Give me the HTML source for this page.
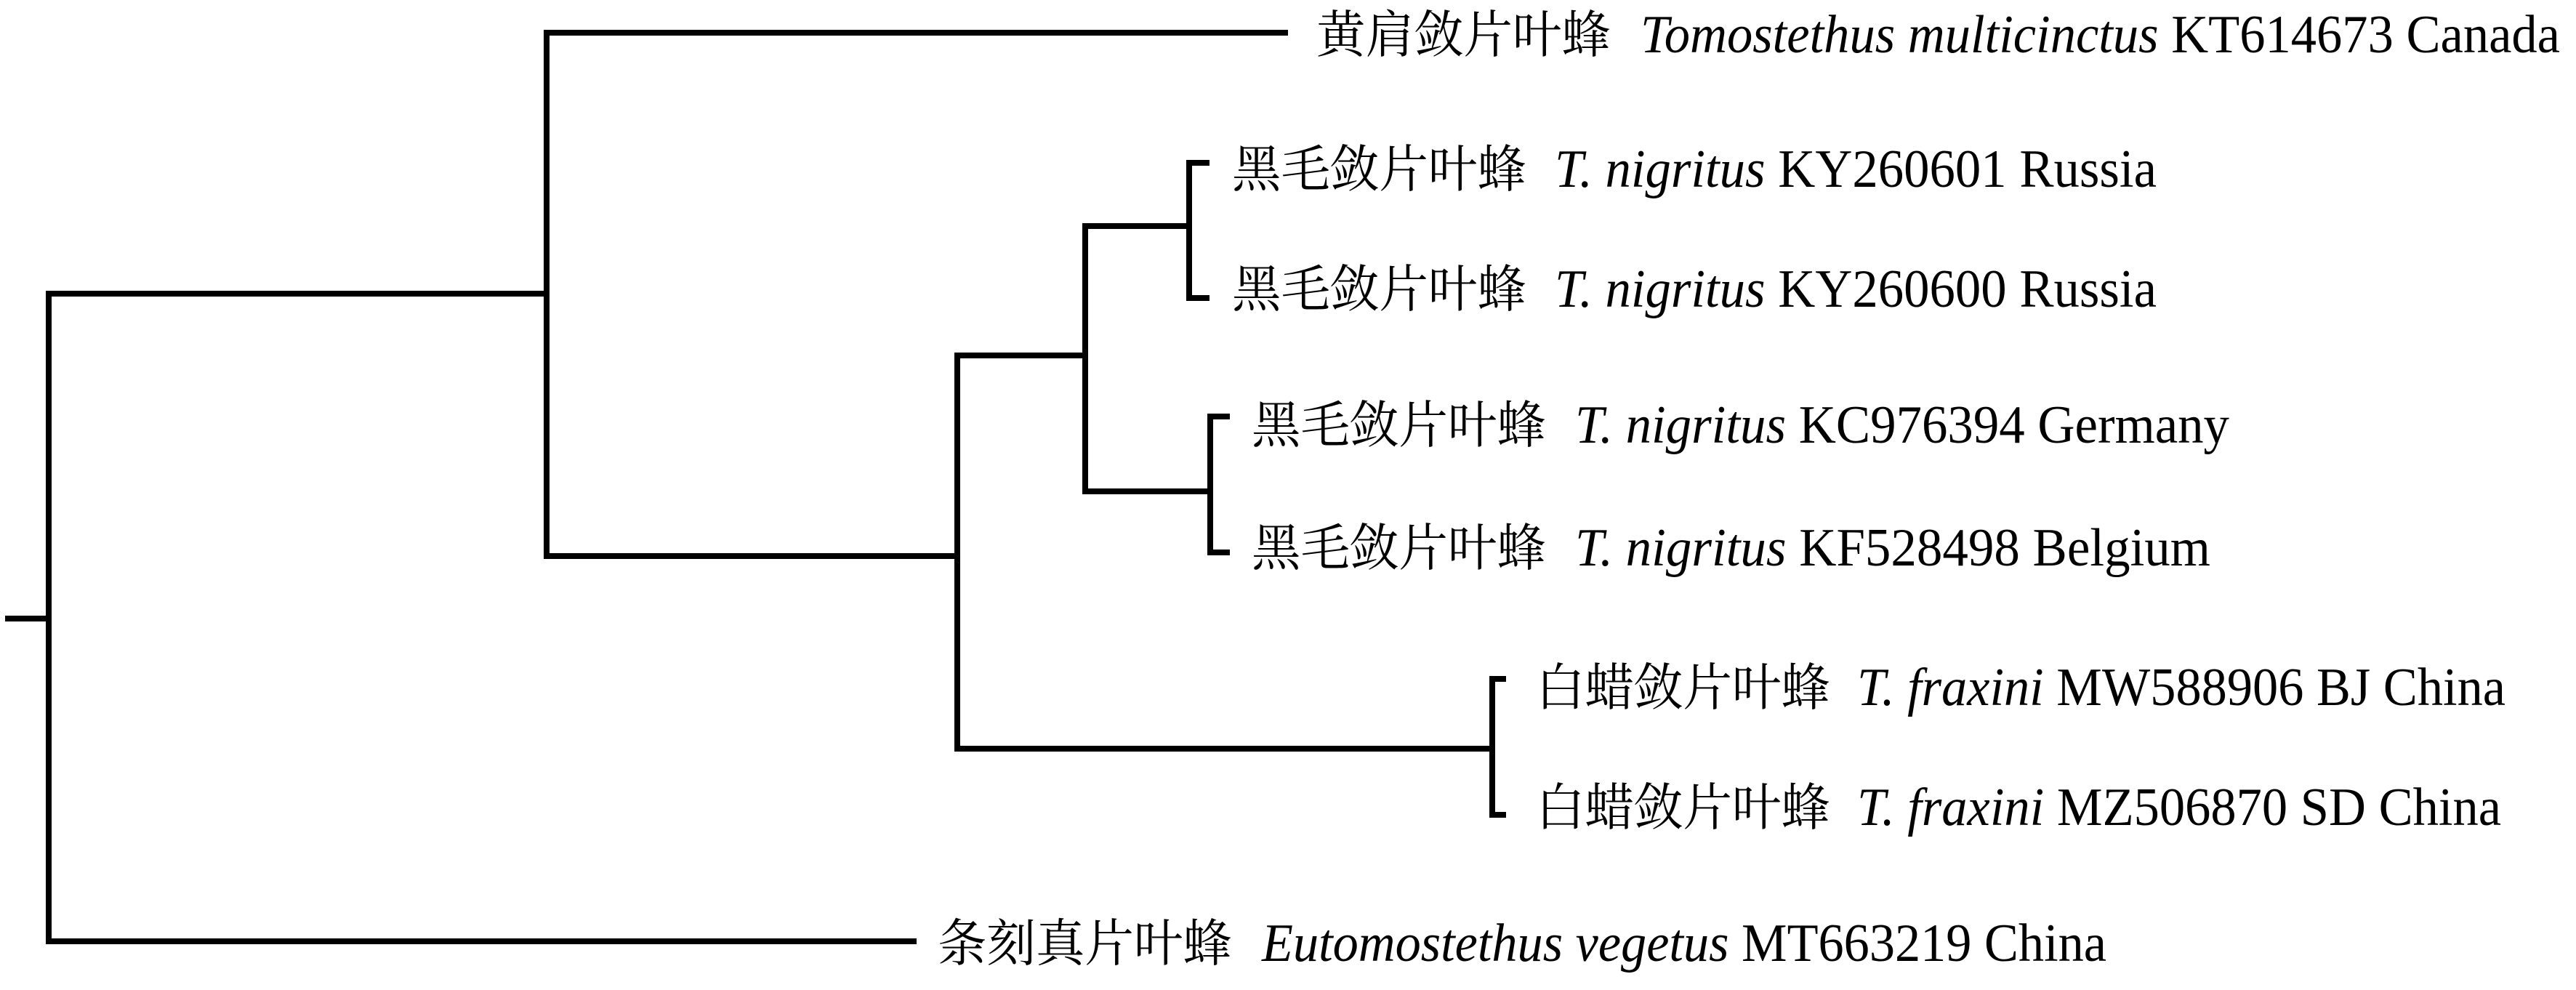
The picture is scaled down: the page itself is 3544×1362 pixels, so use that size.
<!DOCTYPE html>
<html><head><meta charset="utf-8"><style>
html,body{margin:0;padding:0;background:#fff;}
svg{display:block;}
text{font-family:"Liberation Serif","Noto Serif CJK SC",serif;font-size:74px;fill:#000;}
.c{font-family:"Liberation Serif","Noto Serif CJK SC","Noto Sans CJK SC",serif;font-size:70px;}
</style></head><body>
<svg width="3544" height="1362" viewBox="0 0 3544 1362" xmlns="http://www.w3.org/2000/svg">
<g stroke="#000" stroke-width="8" fill="none" stroke-linecap="square">
<line x1="11" y1="851" x2="67" y2="851"/>
<line x1="67" y1="404" x2="67" y2="1295"/>
<line x1="67" y1="404" x2="752" y2="404"/>
<line x1="67" y1="1295" x2="1257" y2="1295"/>
<line x1="752" y1="45" x2="752" y2="765"/>
<line x1="752" y1="45" x2="1768" y2="45"/>
<line x1="752" y1="765" x2="1317" y2="765"/>
<line x1="1317" y1="489" x2="1317" y2="1030"/>
<line x1="1317" y1="489" x2="1493" y2="489"/>
<line x1="1317" y1="1030" x2="2053" y2="1030"/>
<line x1="1493" y1="311" x2="1493" y2="676"/>
<line x1="1493" y1="311" x2="1636" y2="311"/>
<line x1="1493" y1="676" x2="1665" y2="676"/>
<line x1="1636" y1="224" x2="1636" y2="410"/>
<line x1="1636" y1="224" x2="1660" y2="224"/>
<line x1="1636" y1="410" x2="1660" y2="410"/>
<line x1="1665" y1="573" x2="1665" y2="760"/>
<line x1="1665" y1="573" x2="1688" y2="573"/>
<line x1="1665" y1="760" x2="1688" y2="760"/>
<line x1="2053" y1="934" x2="2053" y2="1121"/>
<line x1="2053" y1="934" x2="2068" y2="934"/>
<line x1="2053" y1="1121" x2="2068" y2="1121"/>
</g>
<text class="c" x="1811" y="72" textLength="405" lengthAdjust="spacingAndGlyphs">黄肩敛片叶蜂</text>
<text x="2257" y="72" textLength="1265" lengthAdjust="spacingAndGlyphs"><tspan font-style="italic">Tomostethus multicinctus</tspan> KT614673 Canada</text>

<text class="c" x="1695" y="257" textLength="405" lengthAdjust="spacingAndGlyphs">黑毛敛片叶蜂</text>
<text x="2139" y="257" textLength="828" lengthAdjust="spacingAndGlyphs"><tspan font-style="italic">T. nigritus</tspan> KY260601 Russia</text>

<text class="c" x="1695" y="422" textLength="405" lengthAdjust="spacingAndGlyphs">黑毛敛片叶蜂</text>
<text x="2139" y="422" textLength="828" lengthAdjust="spacingAndGlyphs"><tspan font-style="italic">T. nigritus</tspan> KY260600 Russia</text>

<text class="c" x="1722" y="609" textLength="405" lengthAdjust="spacingAndGlyphs">黑毛敛片叶蜂</text>
<text x="2167" y="609" textLength="900" lengthAdjust="spacingAndGlyphs"><tspan font-style="italic">T. nigritus</tspan> KC976394 Germany</text>

<text class="c" x="1722" y="778" textLength="405" lengthAdjust="spacingAndGlyphs">黑毛敛片叶蜂</text>
<text x="2167" y="778" textLength="874" lengthAdjust="spacingAndGlyphs"><tspan font-style="italic">T. nigritus</tspan> KF528498 Belgium</text>

<text class="c" x="2113" y="970" textLength="405" lengthAdjust="spacingAndGlyphs">白蜡敛片叶蜂</text>
<text x="2555" y="970" textLength="892" lengthAdjust="spacingAndGlyphs"><tspan font-style="italic">T. fraxini</tspan> MW588906 BJ China</text>

<text class="c" x="2113" y="1135" textLength="405" lengthAdjust="spacingAndGlyphs">白蜡敛片叶蜂</text>
<text x="2555" y="1135" textLength="886" lengthAdjust="spacingAndGlyphs"><tspan font-style="italic">T. fraxini</tspan> MZ506870 SD China</text>

<text class="c" x="1290" y="1322" textLength="405" lengthAdjust="spacingAndGlyphs">条刻真片叶蜂</text>
<text x="1736" y="1322" textLength="1162" lengthAdjust="spacingAndGlyphs"><tspan font-style="italic">Eutomostethus vegetus</tspan> MT663219 China</text>
</svg>
</body></html>
